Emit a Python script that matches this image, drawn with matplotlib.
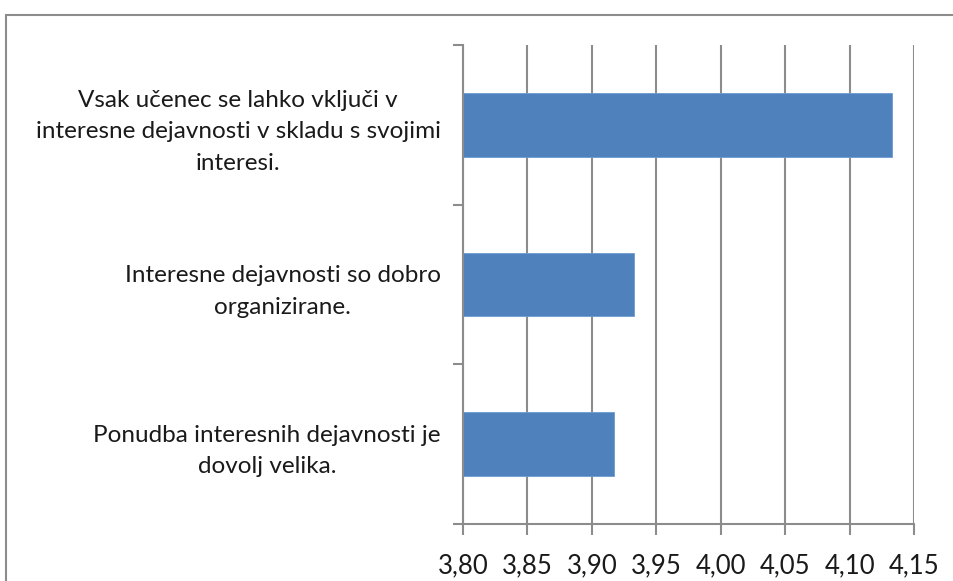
import matplotlib
matplotlib.use("Agg")
import matplotlib.pyplot as plt
from matplotlib.patches import Rectangle
import numpy as np

categories = [
    "Ponudba interesnih dejavnosti je\ndovolj velika.",
    "Interesne dejavnosti so dobro\norganizirane.",
    "Vsak učenec se lahko vključi v\ninteresne dejavnosti v skladu s svojimi\ninteresi.",
]
values = [3.917, 3.933, 4.133]
xticks = [3.80, 3.85, 3.90, 3.95, 4.00, 4.05, 4.10, 4.15]
xticklabels = ["3,80", "3,85", "3,90", "3,95", "4,00", "4,05", "4,10", "4,15"]

plt.rcParams['font.family'] = ['Lato', 'DejaVu Sans']
W, H = 954, 581
fig = plt.figure(figsize=(W / 100, H / 100), dpi=100)

gray = "#8c8c8c"
# outer chart frame
fig.patches.append(Rectangle((6 / W, -0.1), 1.2, 1 - 15 / H + 0.1, transform=fig.transFigure,
                             fill=False, edgecolor=gray, linewidth=1.5))

ax = fig.add_axes([463 / W, 1 - 524 / H, (914 - 463) / W, (524 - 45) / H])
y = np.arange(len(categories))
ax.barh(y, values, height=0.4, color="#4f81bd", edgecolor="#6f9bd1", linewidth=0.6, zorder=3,
        left=0)
ax.set_xlim(3.80, 4.15)
ax.set_ylim(-0.5, len(categories) - 0.5)
ax.set_xticks(xticks)
ax.set_xticklabels(xticklabels, fontsize=18.5, color="#1a1a1a")
ax.set_yticks(y)
ax.set_yticklabels(categories, fontsize=17.5, color="#1a1a1a",
                   multialignment="center", linespacing=1.6)
ax.set_yticks(np.arange(-0.5, len(categories), 1.0), minor=True)
ax.tick_params(axis="y", which="major", length=0, pad=16)
ax.tick_params(axis="y", which="minor", length=7, width=1.5, color=gray, direction="out")
ax.tick_params(axis="x", which="major", length=8, width=1.5, color=gray, direction="out", pad=13)
ax.grid(axis="x", color=gray, linewidth=1.5, zorder=0)
for s in ["top", "right"]:
    ax.spines[s].set_visible(False)
for s in ["left", "bottom"]:
    ax.spines[s].set_color(gray)
    ax.spines[s].set_linewidth(1.5)
    ax.spines[s].set_zorder(4)

fig.savefig("out.png", dpi=100)
